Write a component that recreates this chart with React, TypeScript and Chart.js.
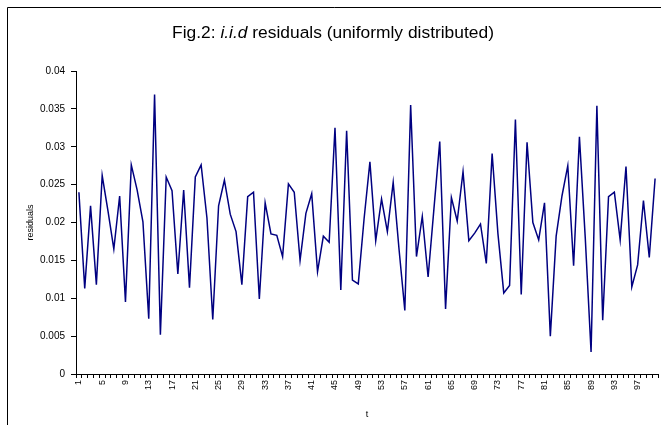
import React, { useEffect, useRef } from 'react';
import { Chart, registerables } from 'chart.js';

Chart.register(...registerables);

const FONT = '"Liberation Sans", Arial, sans-serif';

const categories: string[] = Array.from({ length: 100 }, (_, i) => String(i + 1));
const shownTickLabels: string[] = ['1', '5', '9', '13', '17', '21', '25', '29', '33', '37', '41', '45', '49', '53', '57', '61', '65', '69', '73', '77', '81', '85', '89', '93', '97'];

const residuals: number[] = [
  0.0240, 0.0113, 0.0222, 0.0118, 0.0262, 0.0215, 0.0165, 0.0235, 0.0095, 0.0276,
  0.0243, 0.0201, 0.0073, 0.0369, 0.0052, 0.0260, 0.0242, 0.0132, 0.0243, 0.0114,
  0.0260, 0.0276, 0.0206, 0.0072, 0.0222, 0.0256, 0.0211, 0.0188, 0.0118, 0.0234,
  0.0240, 0.0099, 0.0226, 0.0185, 0.0183, 0.0155, 0.0251, 0.0240, 0.0150, 0.0212,
  0.0238, 0.0135, 0.0182, 0.0174, 0.0325, 0.0111, 0.0321, 0.0124, 0.0119, 0.0205,
  0.0280, 0.0176, 0.0231, 0.0188, 0.0253, 0.0165, 0.0084, 0.0355, 0.0155, 0.0208,
  0.0128, 0.0218, 0.0307, 0.0086, 0.0233, 0.0202, 0.0267, 0.0176, 0.0186, 0.0198,
  0.0146, 0.0291, 0.0185, 0.0107, 0.0117, 0.0336, 0.0105, 0.0306, 0.0200, 0.0177,
  0.0226, 0.0050, 0.0182, 0.0235, 0.0275, 0.0143, 0.0313, 0.0180, 0.0029, 0.0354,
  0.0071, 0.0234, 0.0240, 0.0177, 0.0274, 0.0115, 0.0144, 0.0229, 0.0154, 0.0258,
];

const yMin = 0;
const yMax = 0.04;
const yStep = 0.005;

const titleParts: { text: string; italic: boolean }[] = [
  { text: 'Fig.2: ', italic: false },
  { text: 'i.i.d', italic: true },
  { text: ' residuals (uniformly distributed)', italic: false },
];

const framePlugin = {
  id: 'frameAndTitle',
  beforeDraw(chart: any) {
    const ctx = chart.ctx as CanvasRenderingContext2D;
    ctx.save();
    ctx.fillStyle = '#ffffff';
    ctx.fillRect(0, 0, chart.width, chart.height);
    ctx.strokeStyle = '#000000';
    ctx.lineWidth = 1;
    ctx.beginPath();
    ctx.moveTo(7.5, chart.height);
    ctx.lineTo(7.5, 7.5);
    ctx.lineTo(chart.width, 7.5);
    ctx.stroke();
    ctx.restore();
  },
  afterDraw(chart: any) {
    const ctx = chart.ctx as CanvasRenderingContext2D;
    ctx.save();
    const size = 17.4;
    const fontFor = (italic: boolean) => `${italic ? 'italic ' : ''}${size}px ${FONT}`;
    let total = 0;
    const widths = titleParts.map((p) => {
      ctx.font = fontFor(p.italic);
      const w = ctx.measureText(p.text).width;
      total += w;
      return w;
    });
    let x = 333 - total / 2;
    ctx.fillStyle = '#000000';
    ctx.textBaseline = 'middle';
    ctx.textAlign = 'left';
    titleParts.forEach((p, i) => {
      ctx.font = fontFor(p.italic);
      ctx.fillText(p.text, x, 33);
      x += widths[i];
    });
    ctx.restore();
  },
};

export default function App() {
  const canvasRef = useRef<HTMLCanvasElement | null>(null);

  useEffect(() => {
    if (!canvasRef.current) return;
    const chart = new Chart(canvasRef.current, {
      type: 'line',
      data: {
        labels: categories,
        datasets: [
          {
            label: 'residuals',
            data: residuals,
            borderColor: '#000080',
            borderWidth: 1.5,
            pointRadius: 0,
            tension: 0,
            fill: false,
          },
        ],
      },
      options: {
        responsive: false,
        animation: false,
        layout: { padding: { left: 0, top: 71, right: 3, bottom: 0 } },
        plugins: {
          legend: { display: false },
          tooltip: { enabled: false },
          title: { display: false },
        },
        scales: {
          x: {
            type: 'category',
            offset: true,
            grid: { offset: true, drawOnChartArea: false, drawTicks: true, tickLength: 4, color: '#000000' },
            border: { color: '#000000', width: 1 },
            ticks: {
              autoSkip: false,
              maxRotation: 90,
              minRotation: 90,
              padding: 2,
              color: '#000000',
              font: { size: 9, family: FONT },
              callback: (_v: any, i: number) => (shownTickLabels.includes(categories[i]) ? categories[i] : ''),
            },
            title: { display: true, text: 't', color: '#000000', font: { size: 9, family: FONT }, padding: { top: 0, bottom: 5 } },
            afterFit: (s: any) => {
              s.height = 51;
              s.paddingLeft = 0;
              s.paddingRight = 0;
            },
          },
          y: {
            min: yMin,
            max: yMax,
            grid: { drawOnChartArea: false, drawTicks: true, tickLength: 5, color: '#000000' },
            border: { color: '#000000', width: 1 },
            ticks: {
              stepSize: yStep,
              padding: 6,
              color: '#000000',
              font: { size: 10, family: FONT },
              callback: (v: any) => String(Number(Number(v).toFixed(3))),
            },
            title: { display: true, text: 'residuals', color: '#000000', font: { size: 9, family: FONT }, padding: { top: 25, bottom: 0 } },
            afterFit: (s: any) => {
              s.width = 76;
              s.paddingTop = 0;
              s.paddingBottom = 0;
            },
          },
        },
      },
      plugins: [framePlugin],
    });
    return () => chart.destroy();
  }, []);

  return (
    <div style={{ position: 'absolute', left: 0, top: 0, width: 661, height: 425 }}>
      <canvas ref={canvasRef} width={661} height={425} style={{ display: 'block' }} />
    </div>
  );
}
